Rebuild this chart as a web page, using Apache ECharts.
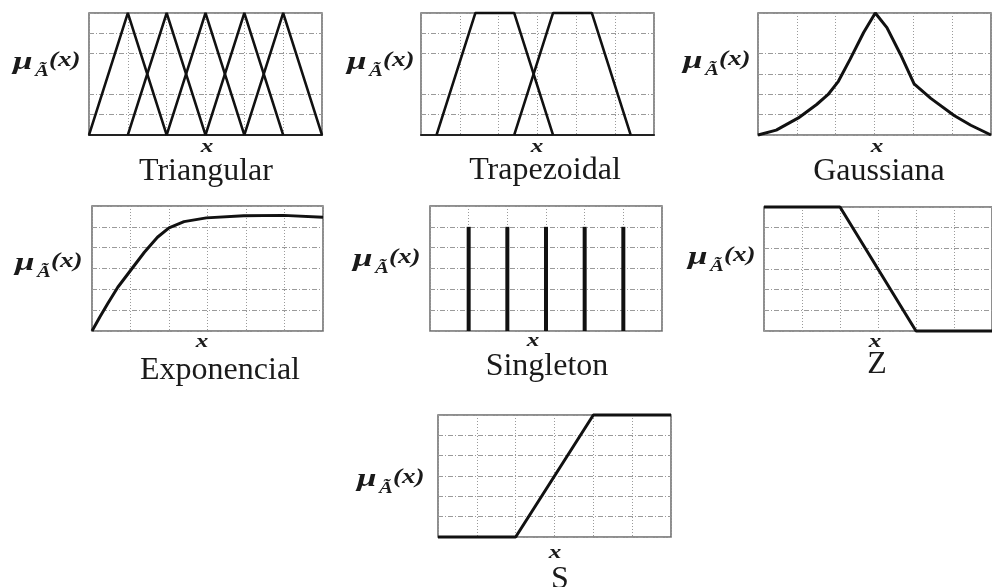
<!DOCTYPE html>
<html>
<head>
<meta charset="utf-8">
<script src="https://cdn.jsdelivr.net/npm/echarts@6/dist/echarts.min.js"></script>
<style>
  html, body { margin: 0; background: #fff; }
  #chart { width: 992px; height: 587px; }
</style>
</head>
<body>
<div id="chart"></div>
<script>
// membership function shapes, x in 0..6, mu in 0..1
const triangles = [[0, 1, 2], [1, 2, 3], [2, 3, 4], [3, 4, 5], [4, 5, 6]];
const trapezoids = [[0.4, 1.4, 2.4, 3.4], [2.4, 3.4, 4.4, 5.4]];
const gaussX = [0, 0.47, 1.04, 1.51, 1.8, 2.07, 2.37, 2.72, 3.02, 3.32, 3.67, 4.02, 4.45, 5.05, 5.48, 6];
const gaussY = [0, 0.04, 0.14, 0.25, 0.33, 0.44, 0.62, 0.84, 1, 0.88, 0.66, 0.42, 0.3, 0.16, 0.08, 0];
const expX = [0, 0.2, 0.41, 0.67, 0.99, 1.36, 1.7, 2, 2.39, 2.97, 3.94, 4.97, 6];
const expY = [0, 0.11, 0.22, 0.35, 0.48, 0.63, 0.75, 0.825, 0.875, 0.905, 0.922, 0.925, 0.91];
const singletonX = [1, 2, 3, 4, 5];
const singletonY = [1, 1, 1, 1, 1];
const zX = [0, 2, 4, 6];
const zY = [1, 1, 0, 0];
const sX = [0, 2, 4, 6];
const sY = [0, 0, 1, 1];
const captions = ['Triangular', 'Trapezoidal', 'Gaussiana', 'Exponencial', 'Singleton', 'Z', 'S'];

const chart = echarts.init(document.getElementById('chart'));

// layout of the 7 small plots
const panels = [
  { left: 89,  top: 13,  width: 233, height: 122, lab: [13, 61],  xl: [207, 147], cap: [206, 172], ymax: 1, hide: 3 },
  { left: 421, top: 13,  width: 233, height: 122, lab: [347, 61], xl: [537, 147], cap: [545, 171], ymax: 1, hide: 3 },
  { left: 758, top: 13,  width: 233, height: 122, lab: [683, 60], xl: [877, 147], cap: [879, 172], ymax: 1, hide: 5 },
  { left: 92,  top: 206, width: 231, height: 125, lab: [15, 262], xl: [202, 342], cap: [220, 371], ymax: 1 },
  { left: 430, top: 206, width: 232, height: 125, lab: [353, 258], xl: [533, 341], cap: [547, 367], ymax: 1.2 },
  { left: 764, top: 207, width: 234, height: 124, lab: [688, 256], xl: [875, 342], cap: [877, 365], ymax: 1 },
  { left: 438, top: 415, width: 233, height: 122, lab: [357, 478], xl: [555, 553], cap: [560, 580], ymax: 1 }
];

const serif = "'Liberation Serif', 'Times New Roman', serif";
const gridLine = '#9a9a9a';

const grids = [], xAxes = [], yAxes = [], series = [], graphic = [];

panels.forEach((p, i) => {
  grids.push({
    left: p.left, top: p.top, width: p.width, height: p.height,
    show: true, borderColor: '#6a6a6a', borderWidth: 1.5, backgroundColor: '#fff'
  });
  xAxes.push({
    type: 'value', gridIndex: i, min: 0, max: 6, interval: 1,
    axisLabel: { show: false }, axisTick: { show: false },
    axisLine: { show: i < 2, lineStyle: { color: '#222', width: 2 } },
    splitLine: { show: true, lineStyle: { color: gridLine, width: 1, type: [1, 2] } }
  });
  const hColors = [];
  for (let k = 0; k < 7; k++) hColors.push(k === p.hide ? 'rgba(0,0,0,0)' : gridLine);
  yAxes.push({
    type: 'value', gridIndex: i, min: 0, max: p.ymax, interval: p.ymax / 6,
    axisLabel: { show: false }, axisTick: { show: false }, axisLine: { show: false },
    splitLine: { show: true, lineStyle: { color: hColors, width: 1, type: [5, 2, 1, 2] } }
  });

  // mu_A~(x) label
  const [lx, ly] = p.lab;
  const lab = { fill: '#1a1a1a', fontFamily: serif, fontWeight: 'bold', fontStyle: 'italic', verticalAlign: 'middle', align: 'left' };
  graphic.push(
    { type: 'text', x: lx, y: ly + 1, scaleX: 1.35, style: Object.assign({}, lab, { text: 'μ', fontSize: 26 }) },
    { type: 'text', x: lx + 22, y: ly + 11, scaleX: 1.3, style: Object.assign({}, lab, { text: 'Ã', fontSize: 16 }) },
    { type: 'text', x: lx + 36, y: ly, scaleX: 1.35, style: Object.assign({}, lab, { text: '(x)', fontSize: 20 }) },
    { type: 'text', x: p.xl[0], y: p.xl[1], scaleX: 1.4, style: Object.assign({}, lab, { text: 'x', fontSize: 18, align: 'center' }) },
    { type: 'text', x: p.cap[0], y: p.cap[1], style: { text: captions[i], fill: '#1a1a1a', fontFamily: serif, fontSize: 32, align: 'center', verticalAlign: 'middle' } }
  );
});

const lineStyle = { color: '#111', width: 2.5 };
function line(idx, data, extra) {
  return Object.assign({
    type: 'line', xAxisIndex: idx, yAxisIndex: idx, data: data,
    showSymbol: false, symbol: 'none', clip: false, lineStyle: lineStyle, silent: true
  }, extra || {});
}

triangles.forEach(t => series.push(line(0, [[t[0], 0], [t[1], 1], [t[2], 0]])));
trapezoids.forEach(t => series.push(line(1, [[t[0], 0], [t[1], 1], [t[2], 1], [t[3], 0]])));
series.push(line(2, gaussX.map((x, k) => [x, gaussY[k]]), { lineStyle: { color: '#111', width: 3 } }));
series.push(line(3, expX.map((x, k) => [x, expY[k]]), { lineStyle: { color: '#111', width: 3 } }));
series.push({
  type: 'bar', xAxisIndex: 4, yAxisIndex: 4, barWidth: 4, silent: true,
  itemStyle: { color: '#111' },
  data: singletonX.map((x, k) => [x, singletonY[k]])
});
series.push(line(5, zX.map((x, k) => [x, zY[k]]), { lineStyle: { color: '#111', width: 3 } }));
series.push(line(6, sX.map((x, k) => [x, sY[k]]), { lineStyle: { color: '#111', width: 3 } }));

chart.setOption({
  animation: false,
  backgroundColor: '#fff',
  grid: grids,
  xAxis: xAxes,
  yAxis: yAxes,
  series: series,
  graphic: graphic
});
</script>
</body>
</html>
